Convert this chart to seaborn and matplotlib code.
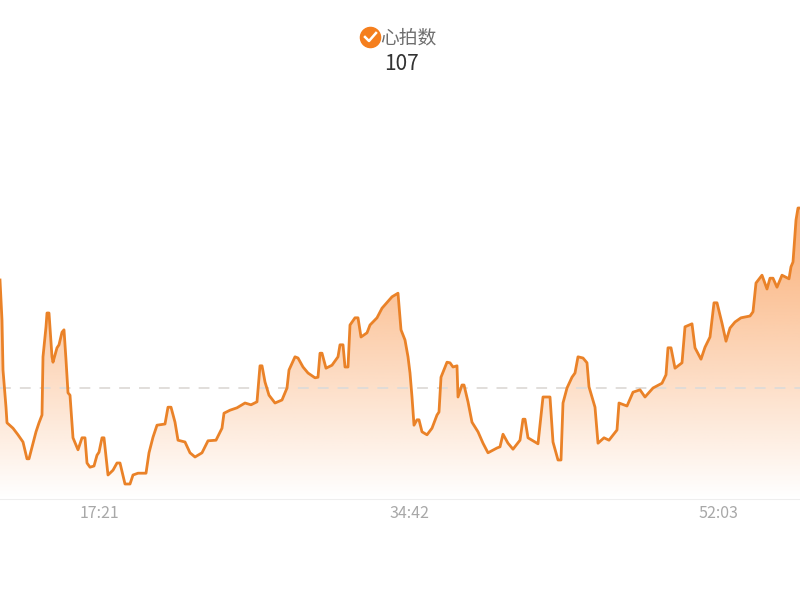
import numpy as np
import pandas as pd
import seaborn as sns
from matplotlib import pyplot as plt
from matplotlib.ticker import FuncFormatter

# samples, about 3.364 s apart
START_SEC = 705
SAMPLE_SEC = 3.364

sample_no = [0, 2, 3, 6, 7, 13, 18, 23, 27, 29, 33, 36, 39, 42, 43, 46, 47, 49, 52, 53,
             57, 59, 62, 64, 66, 68, 70, 73, 78, 82, 85, 87, 90, 94, 97, 99, 102, 104, 108, 113,
             117, 120, 125, 130, 133, 138, 146, 149, 153, 157, 165, 168, 171, 175, 178, 185, 190, 195, 202, 208,
             216, 222, 224, 230, 237, 245, 251, 257, 258, 260, 262, 265, 269, 275, 282, 287, 289, 295, 298, 303,
             308, 315, 318, 320, 322, 326, 332, 338, 340, 343, 345, 348, 350, 355, 358, 361, 367, 370, 377, 382,
             392, 398, 401, 405, 408, 410, 412, 414, 417, 419, 422, 427, 432, 437, 439, 441, 447, 450, 453, 457,
             458, 462, 464, 468, 472, 478, 483, 488, 497, 500, 503, 508, 513, 520, 523, 525, 528, 535, 538, 543,
             550, 553, 558, 561, 563, 567, 572, 575, 578, 583, 587, 589, 595, 598, 604, 609, 617, 619, 627, 633,
             640, 645, 653, 662, 666, 668, 671, 675, 682, 685, 692, 695, 701, 705, 710, 714, 717, 722, 726, 730,
             735, 741, 750, 753, 756, 762, 767, 770, 773, 777, 782, 789, 791, 793, 796, 798, 800]
heart_rate = [95.0, 88.3, 80.0, 73.8, 71.2, 70.3, 69.2, 68.0, 65.2, 65.2, 67.8, 69.7, 71.2, 72.5, 82.2, 87.2, 89.5, 89.5, 82.2, 81.3,
              83.7, 84.2, 86.3, 86.7, 81.7, 76.2, 75.8, 68.7, 66.7, 68.7, 68.7, 64.5, 63.8, 64.0, 65.8, 66.3, 68.7, 68.7, 62.5, 63.3,
              64.5, 64.5, 61.0, 61.0, 62.5, 62.8, 62.8, 66.2, 68.8, 70.8, 71.0, 73.8, 73.8, 71.3, 68.3, 68.0, 66.2, 65.5, 66.2, 68.2,
              68.3, 70.3, 72.8, 73.3, 73.7, 74.5, 74.2, 74.7, 76.7, 80.7, 80.7, 78.0, 75.8, 74.5, 75.0, 77.0, 80.0, 82.2, 82.0, 80.5,
              79.5, 78.7, 78.8, 82.8, 82.8, 80.3, 80.8, 82.2, 84.2, 84.2, 80.5, 80.5, 87.5, 88.7, 88.7, 85.5, 86.2, 87.5, 88.7, 90.3,
              92.2, 92.8, 86.7, 85.0, 82.2, 79.5, 75.5, 70.8, 71.7, 71.7, 69.7, 69.2, 70.3, 72.5, 73.0, 78.8, 81.3, 81.2, 80.5, 80.7,
              75.5, 77.5, 77.5, 74.7, 71.3, 69.7, 67.8, 66.2, 67.0, 67.2, 69.3, 67.8, 66.8, 68.3, 71.8, 71.8, 68.7, 68.0, 67.7, 75.5,
              75.5, 68.0, 65.0, 65.0, 74.5, 77.0, 78.8, 79.5, 82.2, 82.0, 81.2, 77.2, 73.8, 67.8, 68.7, 68.3, 70.0, 74.5, 74.0, 76.3,
              76.7, 75.5, 77.0, 77.8, 79.2, 83.7, 83.7, 80.3, 81.2, 87.2, 87.7, 83.7, 81.8, 83.8, 85.5, 91.2, 91.2, 87.8, 84.8, 87.0,
              88.0, 88.7, 89.0, 89.7, 94.5, 95.8, 93.5, 95.3, 95.3, 93.8, 95.8, 95.2, 97.2, 98.0, 105.0, 107.0, 107.0]
tick_sec = [1041, 2082, 3123]
mean_rate = 77.0
series_name = "心拍数"
current_value = "107"

plt.rcParams['font.family'] = ['Noto Sans CJK SC', 'DejaVu Sans']

df = pd.DataFrame({"sec": START_SEC + np.array(sample_no) * SAMPLE_SEC, "rate": heart_rate})

y_low = 58.5
y_high = 141.67
fig = plt.figure(figsize=(8, 6), dpi=100)
ax = fig.add_axes([0, 101 / 600, 1, 499 / 600])

# gradient under the line, strongest at the max value, clipped to the area
x_low, x_high = df["sec"].min(), df["sec"].max()
grad = np.zeros((256, 2, 4))
grad[..., 0] = 0xF9 / 255
grad[..., 1] = 0x95 / 255
grad[..., 2] = 0x4A / 255
grad[..., 3] = np.linspace(0.78, 0.0, 256)[:, None]
im = ax.imshow(grad, extent=[x_low, x_high, y_low, df["rate"].max()], aspect="auto", zorder=1)
area = ax.fill_between(df["sec"], df["rate"], y_low, color="none", lw=0)
im.set_clip_path(area.get_paths()[0], transform=ax.transData)

ax.axhline(mean_rate, color="#dedbd8", lw=1.3, dashes=(6, 5), zorder=2)
sns.lineplot(data=df, x="sec", y="rate", color="#ea8228", lw=2, ax=ax, zorder=3, estimator=None)

ax.set_xlim(x_low, x_high)
ax.set_ylim(y_low, y_high)
ax.set_xlabel("")
ax.set_ylabel("")
ax.set_yticks([])
ax.set_xticks(tick_sec)
ax.xaxis.set_major_formatter(FuncFormatter(lambda s, _: f"{int(s) // 60:02d}:{int(s) % 60:02d}"))
ax.tick_params(axis="x", length=0, pad=4, labelsize=11.5, labelcolor="#a8a8a8")
sns.despine(ax=ax, left=True, top=True, right=True)
ax.spines["bottom"].set_color("#eeeeee")
ax.patch.set_alpha(0)

# legend on top, check mark badge plus series name and value
fig.text(408, 600 - 38, series_name, transform=None, ha="center", va="center", fontsize=13.5, color="#6e6e6e")
fig.text(401, 600 - 64, current_value, transform=None, ha="center", va="center", fontsize=15, color="#333333")
badge = plt.Line2D([370], [600 - 37], marker="o", ms=14.5, color="#f57f1e", transform=None)
fig.add_artist(badge)
check = plt.Line2D([365, 369, 376], [600 - 37, 600 - 41, 600 - 33], color="white", lw=1.8, transform=None)
fig.add_artist(check)

fig.savefig("out.png", dpi=100)
